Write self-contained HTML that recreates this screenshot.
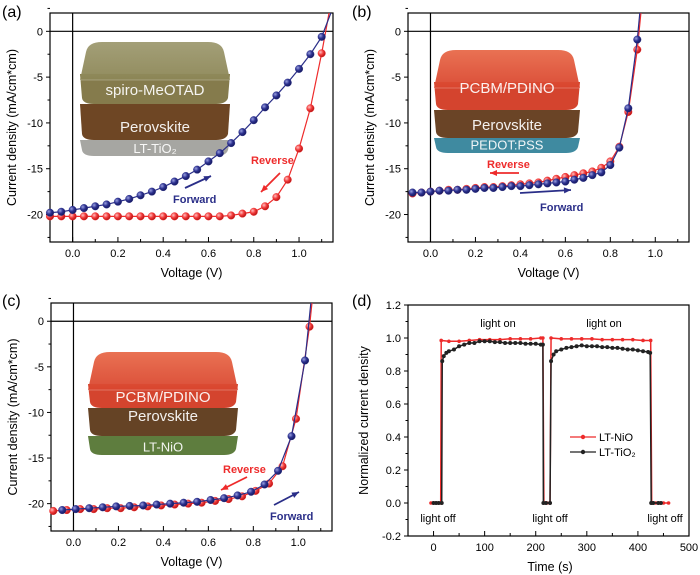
<!DOCTYPE html>
<html><head><meta charset="utf-8"><style>
html,body{margin:0;padding:0;background:#fff;}
svg{display:block;font-family:"Liberation Sans",Arial,sans-serif;}
</style></head><body>
<svg id="fig" width="700" height="575" viewBox="0 0 700 575">
<defs>
<radialGradient id="gBlue" cx="0.35" cy="0.35" r="0.7"><stop offset="0" stop-color="#9aa0e0"/><stop offset="0.5" stop-color="#2c3190"/><stop offset="1" stop-color="#14175a"/></radialGradient>
<radialGradient id="gRed" cx="0.35" cy="0.35" r="0.7"><stop offset="0" stop-color="#ffc0c0"/><stop offset="0.5" stop-color="#f23a3a"/><stop offset="1" stop-color="#b01010"/></radialGradient>
<linearGradient id="topRed" x1="0" y1="0" x2="0" y2="1"><stop offset="0" stop-color="#e86a4a"/><stop offset="1" stop-color="#d9452e"/></linearGradient>
<linearGradient id="topOlive" x1="0" y1="0" x2="0" y2="1"><stop offset="0" stop-color="#9e9a70"/><stop offset="1" stop-color="#8c8656"/></linearGradient>
</defs>
<g id="root"></g>
</svg>
<script>
// ---------- data: panel (a) ----------
const aFwdV = [-0.1,-0.05,0,0.05,0.1,0.15,0.2,0.25,0.3,0.35,0.4,0.45,0.5,0.55,0.6,0.65,0.7,0.75,0.8,0.85,0.9,0.95,1.0,1.05,1.1];
const aFwdJ = [-19.8,-19.7,-19.5,-19.3,-19.1,-18.9,-18.6,-18.3,-17.9,-17.5,-17.0,-16.4,-15.8,-15.1,-14.2,-13.3,-12.2,-11.0,-9.7,-8.3,-7.0,-5.6,-4.1,-2.5,-0.6];
const aRevV = [-0.1,-0.05,0,0.05,0.1,0.15,0.2,0.25,0.3,0.35,0.4,0.45,0.5,0.55,0.6,0.65,0.7,0.75,0.8,0.85,0.9,0.95,1.0,1.05,1.1];
const aRevJ = [-20.2,-20.2,-20.2,-20.2,-20.2,-20.2,-20.2,-20.2,-20.2,-20.2,-20.2,-20.2,-20.2,-20.2,-20.2,-20.2,-20.1,-19.9,-19.7,-19.1,-18.1,-16.2,-12.8,-8.4,-2.4];
const aFwdEnd = [1.15, 2.6];
const aRevEnd = [1.14, 3.0];
// ---------- data: panel (b) ----------
const bV = [-0.08,-0.04,0,0.04,0.08,0.12,0.16,0.2,0.24,0.28,0.32,0.36,0.4,0.44,0.48,0.52,0.56,0.6,0.64,0.68,0.72,0.76,0.8,0.84,0.88,0.92];
const bFwdJ = [-17.6,-17.6,-17.5,-17.4,-17.4,-17.3,-17.3,-17.2,-17.1,-17.1,-17.0,-16.9,-16.9,-16.8,-16.7,-16.6,-16.5,-16.4,-16.2,-16.0,-15.7,-15.4,-14.6,-12.7,-8.4,-0.9];
const bRevJ = [-17.7,-17.6,-17.5,-17.4,-17.3,-17.3,-17.2,-17.1,-17.0,-17.0,-16.9,-16.8,-16.7,-16.6,-16.5,-16.3,-16.1,-15.9,-15.7,-15.5,-15.3,-14.9,-14.2,-12.6,-8.8,-2.0];
const bFwdEnd = [0.935, 3.0];
const bRevEnd = [0.94, 3.0];
// ---------- data: panel (c) ----------
const cFwdV = [-0.05,0.01,0.07,0.13,0.19,0.25,0.31,0.37,0.43,0.49,0.55,0.61,0.67,0.73,0.79,0.85,0.91,0.97,1.03];
const cFwdJ = [-20.7,-20.6,-20.5,-20.4,-20.3,-20.25,-20.2,-20.1,-20.0,-19.9,-19.8,-19.6,-19.4,-19.1,-18.7,-17.9,-16.4,-12.6,-4.3];
const cRevV = [-0.09,-0.03,0.03,0.09,0.15,0.21,0.27,0.33,0.39,0.45,0.51,0.57,0.63,0.69,0.75,0.81,0.87,0.93,0.99,1.05];
const cRevJ = [-20.8,-20.7,-20.6,-20.6,-20.5,-20.5,-20.4,-20.3,-20.2,-20.1,-20.0,-19.9,-19.7,-19.5,-19.2,-18.6,-17.8,-15.9,-10.7,-0.6];
const cFwdEnd = [1.06, 3.0];
const cRevEnd = [1.065, 3.0];
// ---------- data: panel (d) ----------
const dNiT = [-5,0,5,10,14,15,30,50,70,90,110,130,150,170,190,210,214,216,222,228,230,250,270,290,310,330,350,370,390,410,425,427,435,440,450,460];
const dNiY = [0,0,0,0,0,0.985,0.98,0.98,0.985,0.99,0.99,0.99,0.995,0.995,0.995,1.0,1.0,0,0,0,1.0,0.995,0.995,0.995,0.995,0.99,0.99,0.99,0.99,0.985,0.985,0,0,0,0,0];
const dTiT = [0,5,10,16,17,20,25,30,40,50,60,70,80,90,100,110,120,130,140,150,160,170,180,190,200,210,214,215,220,228,230,235,240,250,260,270,280,290,300,310,320,330,340,350,360,370,380,390,400,410,420,424,426,430,440,445];
const dTiY = [0,0,0,0,0.86,0.89,0.91,0.92,0.93,0.95,0.96,0.97,0.97,0.98,0.98,0.98,0.975,0.975,0.97,0.97,0.97,0.97,0.965,0.965,0.965,0.96,0.96,0,0,0,0.86,0.9,0.92,0.93,0.94,0.945,0.95,0.955,0.95,0.95,0.95,0.945,0.945,0.94,0.94,0.935,0.93,0.93,0.925,0.92,0.915,0.91,0,0,0,0];
const jvXTicks = [0,0.2,0.4,0.6,0.8,1.0];
const jvXTickLabels = ["0.0","0.2","0.4","0.6","0.8","1.0"];
const jvYTicks = [0,-5,-10,-15,-20];
const jvYTickLabels = ["0","-5","-10","-15","-20"];
const dXTicks = [0,100,200,300,400,500];
const dYTicks = [-0.2,0,0.2,0.4,0.6,0.8,1.0,1.2];
const dYTickLabels = ["-0.2","0.0","0.2","0.4","0.6","0.8","1.0","1.2"];

const NS = "http://www.w3.org/2000/svg";
const root = document.getElementById('root');
function el(tag, attrs, parent, txt){
  const e = document.createElementNS(NS, tag);
  for (const k in attrs) e.setAttribute(k, attrs[k]);
  if (txt !== undefined) e.textContent = txt;
  (parent || root).appendChild(e);
  return e;
}
const BLUE = "#2a2e88", RED = "#ee2b2b";

function axes(g, P, sx, sy, xt, xl, yt, yl, xMinor, yMinor, id){
  const cp = el('clipPath', {id: 'clip-' + id}, g);
  el('rect', {x: P.l, y: P.t, width: P.r - P.l, height: P.b - P.t}, cp);
  xt.forEach((v, i) => {
    const t = el('line', {x1: sx(v), x2: sx(v), y1: P.b, y2: P.b - 5, stroke: '#000', 'stroke-width': 1}, g);
    
    
    const lb = el('text', {x: sx(v), y: P.b + 15, 'font-size': 11, 'text-anchor': 'middle'}, g, xl[i]);
    
    
  });
  xMinor.forEach(v => {
    const t = el('line', {x1: sx(v), x2: sx(v), y1: P.b, y2: P.b - 3, stroke: '#000', 'stroke-width': 1}, g);
    
    
  });
  yt.forEach((v, i) => {
    const t = el('line', {x1: P.l - 4, x2: P.l, y1: sy(v), y2: sy(v), stroke: '#000', 'stroke-width': 1}, g);
    
    
    const lb = el('text', {x: P.l - 7, y: sy(v) + 4, 'font-size': 11, 'text-anchor': 'end'}, g, yl[i]);
    
    
  });
  yMinor.forEach(v => {
    const t = el('line', {x1: P.l - 2.5, x2: P.l, y1: sy(v), y2: sy(v), stroke: '#000', 'stroke-width': 1}, g);
    
    
  });
}

function frame(g, P){
  const f = el('rect', {x: P.l, y: P.t, width: P.r - P.l, height: P.b - P.t, fill: 'none', stroke: '#000', 'stroke-width': 1.2}, g);
  
  
}

function series(g, id, xs, ys, end, sx, sy, color, grad, name){
  let pts = xs.map((x, i) => sx(x) + ',' + sy(ys[i]));
  if (end) pts.push(sx(end[0]) + ',' + sy(end[1]));
  const line = el('polyline', {points: pts.join(' '), fill: 'none', stroke: color, 'stroke-width': 1.2, 'clip-path': 'url(#clip-' + id + ')'}, g);
  
  
  xs.forEach((x, i) => {
    const c = el('circle', {cx: sx(x), cy: sy(ys[i]), r: 3.8, fill: 'url(#' + grad + ')', stroke: color, 'stroke-width': 0.4}, g);
    
    
  });
}

function arrow(g, x1, y1, x2, y2, color, name){
  const a = el('line', {x1: x1, y1: y1, x2: x2, y2: y2, stroke: color, 'stroke-width': 1.8}, g);
  
  
  const ang = Math.atan2(y2 - y1, x2 - x1), L = 7, W = 3;
  const bx = x2 - L * Math.cos(ang), by = y2 - L * Math.sin(ang);
  const p = el('polygon', {points: `${x2},${y2} ${bx - W*Math.sin(ang)},${by + W*Math.cos(ang)} ${bx + W*Math.sin(ang)},${by - W*Math.cos(ang)}`, fill: color}, g);
  
  
}

function inset(g, x, y, w, layers, topFill, name){
  const ig = el('g', {}, g);
  
  
  const topH = 38;
  let yy = y + topH - 6;
  const ys = [];
  layers.forEach(L => { ys.push(yy); yy += L.h; });
  for (let i = layers.length - 1; i >= 0; i--) {
    const L = layers[i];
    const bottom = ys[i] + L.h;
    el('path', {d: `M${x},${ys[i]} L${x + w},${ys[i]} L${x + w - 2},${bottom - 6} Q${x + w - 4},${bottom} ${x + w - 14},${bottom} L${x + 14},${bottom} Q${x + 3},${bottom} ${x + 2},${bottom - 6} Z`, fill: L.fill}, ig);
  }
  el('path', {d: `M${x + 6},${y + 10} Q${x + 8},${y} ${x + 22},${y} L${x + w - 22},${y} Q${x + w - 8},${y} ${x + w - 6},${y + 10} L${x + w},${y + topH} L${x},${y + topH} Z`, fill: topFill, opacity: 0.95}, ig);
  el('path', {d: `M${x},${y + topH} L${x + w},${y + topH}`, stroke: 'rgba(255,255,255,0.25)', 'stroke-width': 1}, ig);
  layers.forEach((L, i) => {
    if (L.label) {
      const t = el('text', {x: x + w / 2 + (L.dx || 0), y: ys[i] + L.h / 2 + 6 + (L.dy || 0), 'font-size': L.fs || 15, fill: '#fff', 'text-anchor': 'middle', opacity: 0.92}, ig, L.label);
      
      
    }
  });
}

function jvPanel(id, letter, P, lx, ly){
  const g = el('g', {});
  
  
  const sx = v => P.l + (v - (-0.1)) / 1.25 * (P.r - P.l);
  const sy = v => P.t + (2 - v) / 25 * (P.b - P.t);
  axes(g, P, sx, sy, jvXTicks, jvXTickLabels, jvYTicks, jvYTickLabels,
    [-0.1,0.1,0.3,0.5,0.7,0.9,1.1], [2.5,-2.5,-7.5,-12.5,-17.5,-22.5], id);
  const zx = el('line', {x1: sx(0), x2: sx(0), y1: P.t, y2: P.b, stroke: '#000', 'stroke-width': 1.2}, g);
  
  
  const zy = el('line', {x1: P.l, x2: P.r, y1: sy(0), y2: sy(0), stroke: '#000', 'stroke-width': 1.2}, g);
  
  
  frame(g, P);
  const pl = el('text', {x: lx, y: ly, 'font-size': 16}, g, '(' + letter + ')');
  
  
  const xt = el('text', {x: (P.l + P.r) / 2, y: P.b + 35, 'font-size': 12.5, 'text-anchor': 'middle'}, g, 'Voltage (V)');
  
  
  const yt = el('text', {x: 0, y: 0, 'font-size': 12.5, 'text-anchor': 'middle', transform: `translate(${P.l - 34},${(P.t + P.b) / 2}) rotate(-90)`}, g, 'Current density (mA/cm*cm)');
  
  
  return {g, sx, sy};
}

// ---- panel a ----
const PA = {l: 50, r: 333, t: 13, b: 242};
let A = jvPanel('a', 'a', PA, 2, 17);
inset(A.g, 80, 42, 150, [
  {h: 30, fill: '#857b4c', label: 'spiro-MeOTAD'},
  {h: 36, fill: '#6e4624', label: 'Perovskite', dy: 4},
  {h: 16, fill: '#a6a6a2', label: 'LT-TiO\u2082', fs: 13, dy: -1}
], 'url(#topOlive)', 'device-inset');
series(A.g, 'a', aRevV, aRevJ, aRevEnd, A.sx, A.sy, RED, 'gRed', 'reverse-scan');
series(A.g, 'a', aFwdV, aFwdJ, aFwdEnd, A.sx, A.sy, BLUE, 'gBlue', 'forward-scan');
arrow(A.g, 185, 188, 211, 176, BLUE, 'forward-arrow');
arrow(A.g, 280, 173, 261, 192, RED, 'reverse-arrow');
let t;
t = el('text', {x: 173, y: 203, 'font-size': 11, 'font-weight': 'bold', fill: BLUE}, A.g, 'Forward');
 
t = el('text', {x: 251, y: 164, 'font-size': 11, 'font-weight': 'bold', fill: RED}, A.g, 'Reverse');
 

// ---- panel b ----
const PB = {l: 408, r: 689, t: 13, b: 242};
let B = jvPanel('b', 'b', PB, 352, 17);
inset(B.g, 434, 50, 146, [
  {h: 28, fill: '#d4442e', label: 'PCBM/PDINO', dy: -9},
  {h: 28, fill: '#6a4426', label: 'Perovskite'},
  {h: 15, fill: '#3f8aa0', label: 'PEDOT:PSS', fs: 13, dy: -2}
], 'url(#topRed)', 'device-inset');
series(B.g, 'b', bV, bRevJ, bRevEnd, B.sx, B.sy, RED, 'gRed', 'reverse-scan');
series(B.g, 'b', bV, bFwdJ, bFwdEnd, B.sx, B.sy, BLUE, 'gBlue', 'forward-scan');
arrow(B.g, 519, 173, 490, 173, RED, 'reverse-arrow');
arrow(B.g, 520, 193, 571, 190, BLUE, 'forward-arrow');
t = el('text', {x: 487, y: 168, 'font-size': 11, 'font-weight': 'bold', fill: RED}, B.g, 'Reverse');
 
t = el('text', {x: 540, y: 211, 'font-size': 11, 'font-weight': 'bold', fill: BLUE}, B.g, 'Forward');
 

// ---- panel c ----
const PC = {l: 51, r: 332, t: 303, b: 531};
let C = jvPanel('c', 'c', PC, 2, 306);
inset(C.g, 88, 352, 150, [
  {h: 24, fill: '#d4442e', label: 'PCBM/PDINO'},
  {h: 28, fill: '#654325', label: 'Perovskite', dy: -7},
  {h: 19, fill: '#5e7d3e', label: 'LT-NiO', fs: 13, dy: 0}
], 'url(#topRed)', 'device-inset');
series(C.g, 'c', cRevV, cRevJ, cRevEnd, C.sx, C.sy, RED, 'gRed', 'reverse-scan');
series(C.g, 'c', cFwdV, cFwdJ, cFwdEnd, C.sx, C.sy, BLUE, 'gBlue', 'forward-scan');
arrow(C.g, 247, 477, 221, 490, RED, 'reverse-arrow');
arrow(C.g, 274, 505, 299, 492, BLUE, 'forward-arrow');
t = el('text', {x: 223, y: 473, 'font-size': 11, 'font-weight': 'bold', fill: RED}, C.g, 'Reverse');
 
t = el('text', {x: 270, y: 520, 'font-size': 11, 'font-weight': 'bold', fill: BLUE}, C.g, 'Forward');
 

// ---- panel d ----
(function(){
  const P = {l: 408, r: 689, t: 305, b: 536};
  const g = el('g', {});
  
  
  const sx = v => P.l + (v + 50) / 550 * (P.r - P.l);
  const sy = v => P.b - (v + 0.2) / 1.4 * (P.b - P.t);
  axes(g, P, sx, sy, dXTicks, dXTicks.map(String), dYTicks, dYTickLabels,
    [-50,50,150,250,350,450], [-0.1,0.1,0.3,0.5,0.7,0.9,1.1], 'd');
  frame(g, P);
  function ser(ts, ys, color, name, r){
    const l = el('polyline', {points: ts.map((x, i) => sx(x) + ',' + sy(ys[i])).join(' '), fill: 'none', stroke: color, 'stroke-width': 1.5}, g);
    
    
    ts.forEach((x, i) => {
      const c = el('circle', {cx: sx(x), cy: sy(ys[i]), r: r, fill: color}, g);
      
      
    });
  }
  ser(dNiT, dNiY, RED, 'lt-nio', 1.8);
  ser(dTiT, dTiY, '#222', 'lt-tio2', 2);
  const labs = [['light on', 498, 327], ['light on', 604, 327], ['light off', 438, 522], ['light off', 550, 522], ['light off', 665, 522]];
  labs.forEach(L => {
    const tx = el('text', {x: L[1], y: L[2], 'font-size': 11, 'text-anchor': 'middle'}, g, L[0]);
    
    
  });
  const leg = [[RED, 'LT-NiO', 437], ['#222', 'LT-TiO\u2082', 452]];
  leg.forEach(L => {
    const lg = el('g', {}, g);
    
    
    el('line', {x1: 570, x2: 596, y1: L[2], y2: L[2], stroke: L[0], 'stroke-width': 1.2}, lg);
    el('circle', {cx: 583, cy: L[2], r: 2.2, fill: L[0]}, lg);
    el('text', {x: 599, y: L[2] + 4, 'font-size': 11}, lg, L[1]);
  });
  const pl = el('text', {x: 352, y: 306, 'font-size': 16}, g, '(d)');
  
  
  const xt = el('text', {x: 550, y: 571, 'font-size': 12.5, 'text-anchor': 'middle'}, g, 'Time (s)');
  
  
  const yt = el('text', {x: 0, y: 0, 'font-size': 12.5, 'text-anchor': 'middle', transform: `translate(${P.l - 40},${(P.t + P.b) / 2}) rotate(-90)`}, g, 'Normalized current density');
  
  
})();
</script>
</body></html>
